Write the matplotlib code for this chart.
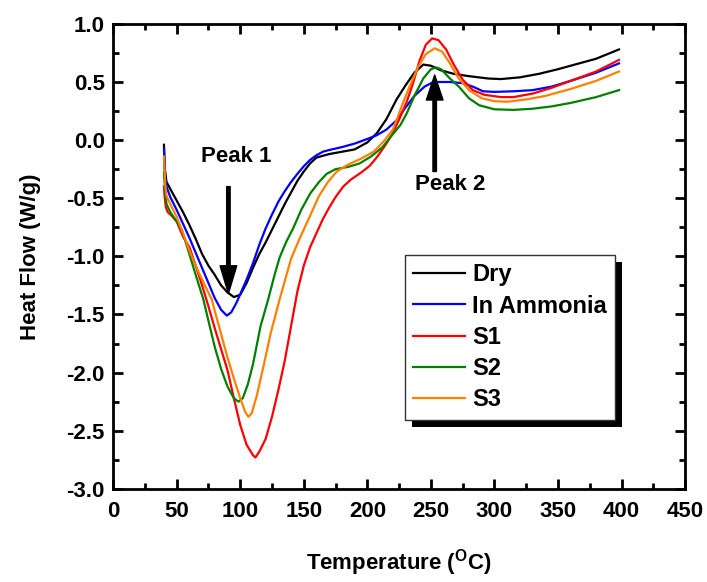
import matplotlib
matplotlib.use("Agg")
import matplotlib.pyplot as plt
from matplotlib.patches import Rectangle
from matplotlib.transforms import IdentityTransform
from matplotlib.ticker import MultipleLocator, FormatStrFormatter

plt.rcParams['font.family'] = ['Liberation Sans', 'DejaVu Sans']
plt.rcParams['font.weight'] = 'bold'
plt.rcParams['mathtext.fontset'] = 'custom'
plt.rcParams['mathtext.rm'] = 'Liberation Sans:bold'
plt.rcParams['mathtext.default'] = 'rm'

# DSC curves (temperature in C, heat flow in W/g)
t_dry = [40, 40.7, 42, 45, 50, 55, 60, 65, 70, 75, 80, 85, 90, 95, 100, 105, 110,
         115, 120, 125, 130, 135, 140, 145, 150, 155, 160, 170, 180, 190, 200,
         207.5, 215, 223, 230, 237, 244, 250, 258, 268, 280, 295, 305, 320, 335,
         350, 360, 380, 398]
hf_dry = [-0.04, -0.25, -0.36, -0.42, -0.52, -0.62, -0.73, -0.85, -0.98, -1.08,
          -1.16, -1.25, -1.31, -1.35, -1.33, -1.23, -1.10, -0.98, -0.88, -0.77,
          -0.66, -0.55, -0.45, -0.35, -0.27, -0.20, -0.15, -0.12, -0.10, -0.08,
          -0.02, 0.06, 0.18, 0.35, 0.47, 0.58, 0.65, 0.64, 0.60, 0.57, 0.55,
          0.53, 0.525, 0.54, 0.57, 0.61, 0.64, 0.70, 0.78]

t_amm = [40, 40.7, 42, 45, 50, 55, 60, 65, 70, 75, 80, 85, 89.5, 93, 97, 101,
         105, 110, 115, 120, 125, 130, 135, 140, 145, 150, 155, 160, 165, 170,
         180, 190, 200, 207, 215, 223, 230, 237, 245, 252, 265, 275, 283, 291,
         300, 315, 330, 345, 360, 380, 398]
hf_amm = [-0.07, -0.30, -0.40, -0.49, -0.60, -0.72, -0.84, -0.97, -1.10, -1.23,
          -1.36, -1.46, -1.51, -1.48, -1.40, -1.30, -1.20, -1.06, -0.90, -0.76,
          -0.64, -0.53, -0.44, -0.36, -0.29, -0.225, -0.17, -0.13, -0.10, -0.085,
          -0.06, -0.03, 0.01, 0.04, 0.09, 0.17, 0.28, 0.38, 0.46, 0.50, 0.50,
          0.49, 0.46, 0.42, 0.415, 0.42, 0.43, 0.46, 0.51, 0.58, 0.66]

t_s1 = [40, 40.5, 41.5, 43, 46, 50, 55, 60, 65, 70, 75, 80, 85, 90, 95, 100,
        105, 110, 112, 115, 120, 125, 130, 135, 140, 145, 150, 155, 160, 165,
        170, 175, 181, 187, 195, 202, 208, 215, 220, 226, 231, 236, 241, 246,
        251, 256, 262, 268, 275, 283, 292, 305, 315, 330, 345, 360, 380, 398]
hf_s1 = [-0.40, -0.48, -0.58, -0.62, -0.65, -0.70, -0.83, -0.92, -1.08, -1.25,
         -1.43, -1.62, -1.80, -1.98, -2.22, -2.45, -2.62, -2.71, -2.73, -2.68,
         -2.57, -2.38, -2.15, -1.90, -1.60, -1.30, -1.08, -0.92, -0.80, -0.68,
         -0.58, -0.49, -0.40, -0.34, -0.28, -0.22, -0.14, -0.03, 0.06, 0.20,
         0.33, 0.49, 0.68, 0.82, 0.875, 0.86, 0.78, 0.65, 0.52, 0.43, 0.39,
         0.37, 0.37, 0.40, 0.45, 0.51, 0.59, 0.69]

t_s2 = [40, 41, 42, 45, 50, 54, 60, 65, 71, 76, 80, 85, 90, 95, 98.6, 102, 106,
        110, 116, 122, 127, 131, 136, 142, 148, 155, 162, 168, 175, 185, 194,
        203, 212, 220, 226, 231, 237, 244, 250, 254, 258, 265, 272, 280, 288,
        300, 315, 330, 345, 360, 380, 398]
hf_s2 = [-0.28, -0.45, -0.55, -0.62, -0.70, -0.77, -0.98, -1.16, -1.37, -1.60,
         -1.78, -1.97, -2.12, -2.22, -2.25, -2.22, -2.10, -1.93, -1.60, -1.37,
         -1.16, -1.01, -0.88, -0.75, -0.60, -0.46, -0.36, -0.29, -0.25, -0.23,
         -0.20, -0.14, -0.06, 0.05, 0.13, 0.23, 0.38, 0.53, 0.61, 0.625, 0.61,
         0.53, 0.46, 0.36, 0.30, 0.265, 0.26, 0.27, 0.29, 0.32, 0.37, 0.43]

t_s3 = [40, 41, 42, 45, 50, 55, 60, 65, 70, 77.6, 80, 85, 90, 95, 100, 104,
        106.5, 109, 113, 118, 124, 131, 140, 147, 155, 162, 169, 176, 185, 195,
        205, 213, 220, 224, 228, 234, 240, 246, 253, 259, 265, 272, 280, 290,
        300, 310, 325, 340, 360, 380, 398]
hf_s3 = [-0.14, -0.38, -0.48, -0.55, -0.66, -0.80, -0.95, -1.08, -1.20, -1.37,
         -1.47, -1.67, -1.87, -2.05, -2.22, -2.34, -2.38, -2.35, -2.20, -1.96,
         -1.66, -1.37, -1.02, -0.84, -0.65, -0.48, -0.36, -0.27, -0.21, -0.16,
         -0.10, -0.01, 0.09, 0.20, 0.32, 0.48, 0.63, 0.74, 0.79, 0.76, 0.66,
         0.53, 0.43, 0.36, 0.335, 0.33, 0.35, 0.38, 0.44, 0.51, 0.59]

series = [
    ("Dry", t_dry, hf_dry, "black"),
    ("In Ammonia", t_amm, hf_amm, "#0000FF"),
    ("S1", t_s1, hf_s1, "#FF0000"),
    ("S2", t_s2, hf_s2, "#008000"),
    ("S3", t_s3, hf_s3, "#FF8000"),
]

fig = plt.figure(figsize=(7.07, 5.82), dpi=100)
ax = fig.add_axes([0.160, 0.160, 0.809, 0.799])

for name, t, hf, col in series:
    ax.plot(t, hf, color=col, lw=1.6, label=name)

ax.set_xlim(0, 450)
ax.set_ylim(-3.0, 1.0)
ax.xaxis.set_major_locator(MultipleLocator(50))
ax.xaxis.set_minor_locator(MultipleLocator(25))
ax.yaxis.set_major_locator(MultipleLocator(0.5))
ax.yaxis.set_minor_locator(MultipleLocator(0.25))
ax.yaxis.set_major_formatter(FormatStrFormatter('%.1f'))

ax.tick_params(which='both', direction='in', top=True, right=True, width=2)
ax.tick_params(which='major', length=7, labelsize=16)
ax.tick_params(axis='x', which='major', pad=9)
ax.tick_params(axis='y', which='major', pad=6)
ax.tick_params(which='minor', length=4)
for lab in ax.get_xticklabels() + ax.get_yticklabels():
    lab.set_fontweight('bold')
for sp in ax.spines.values():
    sp.set_linewidth(2)

ax.set_xlabel(r'Temperature ($^{O}$C)', fontsize=16, fontweight='bold', labelpad=18)
ax.set_ylabel('Heat Flow (W/g)', fontsize=16, fontweight='bold', labelpad=18)

# peak arrows
ax.annotate('', xy=(90.7, -1.32), xytext=(90.7, -0.40),
            arrowprops=dict(facecolor='black', edgecolor='black', width=2.5,
                            headwidth=12, headlength=20, shrink=0))
ax.text(97, -0.14, 'Peak 1', fontsize=16, fontweight='bold', ha='center', va='center')
ax.annotate('', xy=(253, 0.56), xytext=(253, -0.27),
            arrowprops=dict(facecolor='black', edgecolor='black', width=2.5,
                            headwidth=12, headlength=18, shrink=0))
ax.text(265, -0.385, 'Peak 2', fontsize=16, fontweight='bold', ha='center', va='center')

leg = ax.legend(loc='upper left', bbox_to_anchor=(0.51, 0.503), fontsize=17,
                frameon=True, fancybox=False, framealpha=1, handlelength=2.2,
                handletextpad=0.3, labelspacing=0.35, borderpad=0.35,
                borderaxespad=0)
leg.get_frame().set_edgecolor('#333333')
leg.get_frame().set_linewidth(1.0)
leg.set_zorder(6)
for txt in leg.get_texts():
    txt.set_fontweight('bold')

# black drop shadow behind the legend box
fig.canvas.draw()
bb = leg.get_window_extent()
shadow = Rectangle((bb.x0 + 7, bb.y0 - 7), bb.width, bb.height,
                   transform=IdentityTransform(), facecolor='black',
                   edgecolor='none', zorder=5, clip_on=False)
ax.add_patch(shadow)

fig.savefig('out.png', dpi=100)
